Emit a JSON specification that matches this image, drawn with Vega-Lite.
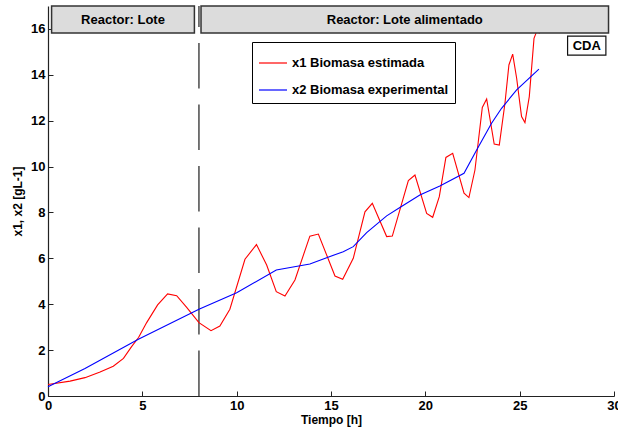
{
  "$schema": "https://vega.github.io/schema/vega-lite/v6.json",
  "width": 566,
  "height": 390,
  "autosize": {"type": "none"},
  "padding": {"left": 48, "top": 6, "right": 4, "bottom": 36},
  "background": "white",
  "config": {
    "view": {"stroke": null},
    "font": "Liberation Sans",
    "axis": {
      "labelFont": "Liberation Sans", "labelFontWeight": "bold", "labelFontSize": 13, "labelColor": "black",
      "titleFont": "Liberation Sans", "titleFontWeight": "bold", "titleFontSize": 12, "titleColor": "black",
      "domainColor": "#222", "domainWidth": 1.2, "tickColor": "#222", "tickSize": -5, "grid": false
    }
  },
  "datasets": {
    "series": [
      {"t": 0, "v": 0.5, "s": "x1 Biomasa estimada"},
      {"t": 1.17, "v": 0.65, "s": "x1 Biomasa estimada"},
      {"t": 1.96, "v": 0.8, "s": "x1 Biomasa estimada"},
      {"t": 2.76, "v": 1.05, "s": "x1 Biomasa estimada"},
      {"t": 3.46, "v": 1.3, "s": "x1 Biomasa estimada"},
      {"t": 4.0, "v": 1.64, "s": "x1 Biomasa estimada"},
      {"t": 4.43, "v": 2.15, "s": "x1 Biomasa estimada"},
      {"t": 4.8, "v": 2.55, "s": "x1 Biomasa estimada"},
      {"t": 5.23, "v": 3.2, "s": "x1 Biomasa estimada"},
      {"t": 5.81, "v": 3.97, "s": "x1 Biomasa estimada"},
      {"t": 6.34, "v": 4.45, "s": "x1 Biomasa estimada"},
      {"t": 6.82, "v": 4.37, "s": "x1 Biomasa estimada"},
      {"t": 7.35, "v": 3.86, "s": "x1 Biomasa estimada"},
      {"t": 8.0, "v": 3.2, "s": "x1 Biomasa estimada"},
      {"t": 8.64, "v": 2.85, "s": "x1 Biomasa estimada"},
      {"t": 9.11, "v": 3.05, "s": "x1 Biomasa estimada"},
      {"t": 9.64, "v": 3.78, "s": "x1 Biomasa estimada"},
      {"t": 10.44, "v": 5.96, "s": "x1 Biomasa estimada"},
      {"t": 11.05, "v": 6.6, "s": "x1 Biomasa estimada"},
      {"t": 11.59, "v": 5.71, "s": "x1 Biomasa estimada"},
      {"t": 12.1, "v": 4.55, "s": "x1 Biomasa estimada"},
      {"t": 12.56, "v": 4.36, "s": "x1 Biomasa estimada"},
      {"t": 13.09, "v": 5.06, "s": "x1 Biomasa estimada"},
      {"t": 13.88, "v": 6.97, "s": "x1 Biomasa estimada"},
      {"t": 14.33, "v": 7.06, "s": "x1 Biomasa estimada"},
      {"t": 15.21, "v": 5.23, "s": "x1 Biomasa estimada"},
      {"t": 15.62, "v": 5.09, "s": "x1 Biomasa estimada"},
      {"t": 16.18, "v": 6.0, "s": "x1 Biomasa estimada"},
      {"t": 16.8, "v": 8.03, "s": "x1 Biomasa estimada"},
      {"t": 17.19, "v": 8.4, "s": "x1 Biomasa estimada"},
      {"t": 17.95, "v": 6.95, "s": "x1 Biomasa estimada"},
      {"t": 18.25, "v": 6.97, "s": "x1 Biomasa estimada"},
      {"t": 19.1, "v": 9.39, "s": "x1 Biomasa estimada"},
      {"t": 19.45, "v": 9.63, "s": "x1 Biomasa estimada"},
      {"t": 20.07, "v": 7.96, "s": "x1 Biomasa estimada"},
      {"t": 20.39, "v": 7.79, "s": "x1 Biomasa estimada"},
      {"t": 20.74, "v": 8.69, "s": "x1 Biomasa estimada"},
      {"t": 21.09, "v": 10.4, "s": "x1 Biomasa estimada"},
      {"t": 21.45, "v": 10.58, "s": "x1 Biomasa estimada"},
      {"t": 22.05, "v": 8.84, "s": "x1 Biomasa estimada"},
      {"t": 22.31, "v": 8.65, "s": "x1 Biomasa estimada"},
      {"t": 22.63, "v": 9.85, "s": "x1 Biomasa estimada"},
      {"t": 23.02, "v": 12.58, "s": "x1 Biomasa estimada"},
      {"t": 23.25, "v": 12.95, "s": "x1 Biomasa estimada"},
      {"t": 23.65, "v": 10.98, "s": "x1 Biomasa estimada"},
      {"t": 23.92, "v": 10.94, "s": "x1 Biomasa estimada"},
      {"t": 24.22, "v": 12.76, "s": "x1 Biomasa estimada"},
      {"t": 24.43, "v": 14.43, "s": "x1 Biomasa estimada"},
      {"t": 24.63, "v": 14.9, "s": "x1 Biomasa estimada"},
      {"t": 24.84, "v": 13.85, "s": "x1 Biomasa estimada"},
      {"t": 25.1, "v": 12.18, "s": "x1 Biomasa estimada"},
      {"t": 25.28, "v": 11.92, "s": "x1 Biomasa estimada"},
      {"t": 25.51, "v": 13.05, "s": "x1 Biomasa estimada"},
      {"t": 25.76, "v": 15.59, "s": "x1 Biomasa estimada"},
      {"t": 25.93, "v": 15.95, "s": "x1 Biomasa estimada"},
      {"t": 26.05, "v": 15.8, "s": "x1 Biomasa estimada"},
      {"t": 0, "v": 0.4, "s": "x2 Biomasa experimental"},
      {"t": 1.96, "v": 1.2, "s": "x2 Biomasa experimental"},
      {"t": 4.79, "v": 2.47, "s": "x2 Biomasa experimental"},
      {"t": 8.0, "v": 3.78, "s": "x2 Biomasa experimental"},
      {"t": 10.0, "v": 4.5, "s": "x2 Biomasa experimental"},
      {"t": 12.1, "v": 5.49, "s": "x2 Biomasa experimental"},
      {"t": 13.88, "v": 5.75, "s": "x2 Biomasa experimental"},
      {"t": 14.77, "v": 6.03, "s": "x2 Biomasa experimental"},
      {"t": 15.65, "v": 6.29, "s": "x2 Biomasa experimental"},
      {"t": 16.18, "v": 6.51, "s": "x2 Biomasa experimental"},
      {"t": 16.89, "v": 7.12, "s": "x2 Biomasa experimental"},
      {"t": 17.95, "v": 7.85, "s": "x2 Biomasa experimental"},
      {"t": 18.65, "v": 8.22, "s": "x2 Biomasa experimental"},
      {"t": 19.71, "v": 8.76, "s": "x2 Biomasa experimental"},
      {"t": 20.77, "v": 9.15, "s": "x2 Biomasa experimental"},
      {"t": 22.05, "v": 9.71, "s": "x2 Biomasa experimental"},
      {"t": 22.72, "v": 10.72, "s": "x2 Biomasa experimental"},
      {"t": 23.51, "v": 11.89, "s": "x2 Biomasa experimental"},
      {"t": 24.04, "v": 12.54, "s": "x2 Biomasa experimental"},
      {"t": 24.84, "v": 13.34, "s": "x2 Biomasa experimental"},
      {"t": 26.02, "v": 14.25, "s": "x2 Biomasa experimental"}
    ],
    "phases": [
      {"x0": 0.19, "x1": 7.76, "y0": 15.82, "y1": 17, "label": "Reactor: Lote"},
      {"x0": 8.11, "x1": 29.71, "y0": 15.82, "y1": 17, "label": "Reactor: Lote alimentado"}
    ],
    "tag": [
      {"x0": 27.54, "x1": 29.57, "y0": 14.86, "y1": 15.69, "label": "CDA"}
    ],
    "switch": [{"t": 8, "lo": 0, "hi": 17}]
  },
  "layer": [
    {
      "data": {"name": "switch"},
      "mark": {"type": "rule", "color": "#555", "strokeWidth": 1.6, "strokeDash": [45.5, 16]},
      "encoding": {
        "x": {"field": "t", "type": "quantitative", "scale": {"domain": [0, 30]}},
        "y": {"field": "lo", "type": "quantitative", "scale": {"domain": [0, 17]}},
        "y2": {"field": "hi"}
      }
    },
    {
      "data": {"name": "series"},
      "mark": {"type": "line", "strokeWidth": 1.1},
      "encoding": {
        "x": {"field": "t", "type": "quantitative", "title": "Tiempo [h]",
              "scale": {"domain": [0, 30], "nice": false},
              "axis": {"values": [0, 5, 10, 15, 20, 25, 30], "labelPadding": 8, "titlePadding": 2, "labelFlush": false}},
        "y": {"field": "v", "type": "quantitative", "title": "x1, x2 [gL-1]",
              "scale": {"domain": [0, 17], "nice": false},
              "axis": {"values": [0, 2, 4, 6, 8, 10, 12, 14, 16], "labelPadding": 8, "titlePadding": 6, "labelFlush": false}},
        "color": {"field": "s", "type": "nominal",
                  "scale": {"domain": ["x1 Biomasa estimada", "x2 Biomasa experimental"], "range": ["#ff0000", "#0000ff"]},
                  "legend": {"title": null, "orient": "none", "legendX": 204, "legendY": 36,
                             "symbolType": "stroke", "symbolSize": 784, "symbolStrokeWidth": 1.2,
                             "labelFont": "Liberation Sans", "labelFontWeight": "bold", "labelFontSize": 13, "labelColor": "black",
                             "strokeColor": "black", "fillColor": "white", "padding": 6, "rowPadding": 5, "labelOffset": 4}},
        "detail": {"field": "s"}
      }
    },
    {
      "data": {"name": "phases"},
      "mark": {"type": "rect", "fill": "#dcdcdc", "stroke": "#333", "strokeWidth": 1.5},
      "encoding": {
        "x": {"field": "x0", "type": "quantitative"},
        "x2": {"field": "x1"},
        "y": {"field": "y0", "type": "quantitative"},
        "y2": {"field": "y1"}
      }
    },
    {
      "data": {"name": "phases"},
      "transform": [{"calculate": "(datum.x0 + datum.x1) / 2", "as": "xc"}, {"calculate": "(datum.y0 + datum.y1) / 2", "as": "yc"}],
      "mark": {"type": "text", "font": "Liberation Sans", "fontWeight": "bold", "fontSize": 13, "color": "black", "baseline": "middle", "align": "center"},
      "encoding": {
        "x": {"field": "xc", "type": "quantitative"},
        "y": {"field": "yc", "type": "quantitative"},
        "text": {"field": "label"}
      }
    },
    {
      "data": {"name": "tag"},
      "mark": {"type": "rect", "fill": "white", "stroke": "#111", "strokeWidth": 1.2},
      "encoding": {
        "x": {"field": "x0", "type": "quantitative"},
        "x2": {"field": "x1"},
        "y": {"field": "y0", "type": "quantitative"},
        "y2": {"field": "y1"}
      }
    },
    {
      "data": {"name": "tag"},
      "transform": [{"calculate": "(datum.x0 + datum.x1) / 2", "as": "xc"}, {"calculate": "(datum.y0 + datum.y1) / 2", "as": "yc"}],
      "mark": {"type": "text", "font": "Liberation Sans", "fontWeight": "bold", "fontSize": 13, "color": "black", "baseline": "middle", "align": "center"},
      "encoding": {
        "x": {"field": "xc", "type": "quantitative"},
        "y": {"field": "yc", "type": "quantitative"},
        "text": {"field": "label"}
      }
    }
  ]
}
